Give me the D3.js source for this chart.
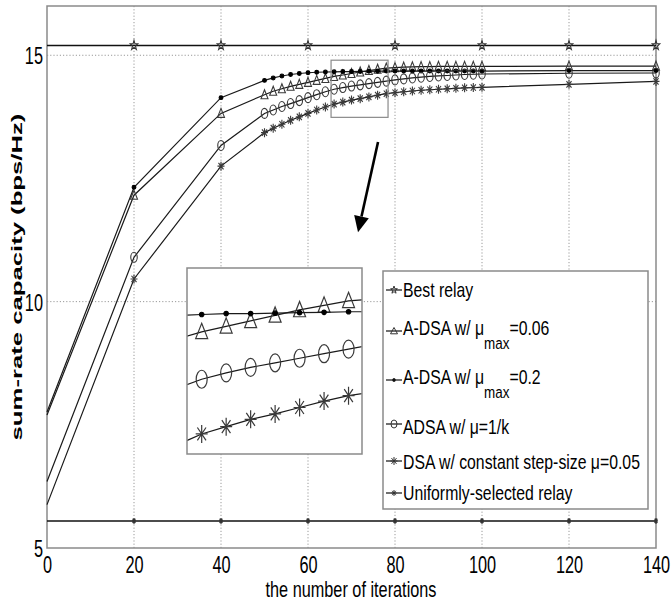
<!DOCTYPE html>
<html>
<head>
<meta charset="utf-8">
<script src="https://cdn.jsdelivr.net/npm/d3@7"></script>
<style>
body{margin:0;background:#fff}
svg{display:block}
text{font-family:"Liberation Sans",Arial,sans-serif;fill:#000}
</style>
</head>
<body>
<script>
// iterations where the adaptive curves were sampled
const iters = [0,20,40,50,52,54,56,58,60,62,64,66,68,70,72,74,76,78,80,82,84,86,88,90,92,94,96,98,100,120,140];
const aDsa006 = [7.70,12.16,13.82,14.20,14.27,14.32,14.37,14.41,14.45,14.49,14.53,14.57,14.60,14.63,14.66,14.69,14.715,14.74,14.75,14.76,14.765,14.77,14.77,14.775,14.775,14.775,14.775,14.775,14.775,14.78,14.78];
const aDsa02 = [7.76,12.32,14.14,14.49,14.54,14.58,14.61,14.63,14.645,14.655,14.66,14.665,14.67,14.67,14.672,14.675,14.677,14.68,14.68,14.68,14.68,14.68,14.68,14.68,14.68,14.68,14.68,14.68,14.68,14.69,14.69];
const adsaK = [6.35,10.9,13.17,13.82,13.89,13.96,14.02,14.08,14.14,14.20,14.26,14.31,14.345,14.375,14.40,14.425,14.45,14.475,14.50,14.52,14.54,14.555,14.57,14.58,14.59,14.60,14.61,14.615,14.62,14.635,14.64];
const dsaConst = [5.88,10.46,12.75,13.43,13.52,13.60,13.68,13.75,13.82,13.89,13.95,14.01,14.05,14.09,14.12,14.155,14.19,14.22,14.24,14.26,14.275,14.29,14.30,14.31,14.32,14.33,14.34,14.345,14.35,14.41,14.47];
// the two reference lines
const flatIters = [0,20,40,60,80,100,120,140];
const bestRelay = [15.2,15.2,15.2,15.2,15.2,15.2,15.2,15.2];
const uniformRelay = [5.55,5.55,5.55,5.55,5.55,5.55,5.55,5.55];

const xTicks = [0,20,40,60,80,100,120,140];
const yTicks = [5,10,15];
const legendNames = ["Best relay","A-DSA w/ \u03bcmax=0.06","A-DSA w/ \u03bcmax=0.2","ADSA w/ \u03bc=1/k","DSA w/ constant step-size \u03bc=0.05","Uniformly-selected relay"];

// zoomed window (data units)
const zoomBox = {x:[65.3,78.4], y:[13.74,14.90]};
const insetDomain = {x:[64.8,79.1], y:[13.90,14.92]};

const W = 672, H = 607;
const svg = d3.select("body").append("svg").attr("width",W).attr("height",H);

const x = d3.scaleLinear().domain([0,140]).range([47,656]);
const y = d3.scaleLinear().domain([5,16]).range([548,6]);

// marker shapes, w/h are full sizes in px
function shape(type,w,h){
  const a=w/2,b=h/2;
  if(type==="tri") return `M0,${-b}L${a},${b*0.8}L${-a},${b*0.8}Z`;
  if(type==="circ"||type==="dot") return `M${-a},0A${a},${b} 0 1,0 ${a},0A${a},${b} 0 1,0 ${-a},0Z`;
  if(type==="ast"){
    const c=a*0.72,d=b*0.72;
    return `M0,${-b}V${b}M${-a},0H${a}M${-c},${-d}L${c},${d}M${c},${-d}L${-c},${d}`;
  }
  if(type==="pent"){
    let p="";
    for(let i=0;i<10;i++){
      const r=i%2?0.4:1, t=-Math.PI/2+i*Math.PI/5;
      p+=(i?"L":"M")+(a*r*Math.cos(t)).toFixed(2)+","+(b*r*Math.sin(t)).toFixed(2);
    }
    return p+"Z";
  }
}

const series = [
  {xs:iters, ys:aDsa006, m:"tri"},
  {xs:iters, ys:aDsa02, m:"dot"},
  {xs:iters, ys:adsaK, m:"circ"},
  {xs:iters, ys:dsaConst, m:"ast"}
];
const mainSize = {tri:[7,10],dot:[3.8,3.8],circ:[6.5,10],ast:[7,9]};

// grid
const grid = svg.append("g").attr("stroke","#9a9a9a").attr("stroke-dasharray","1.2,2").attr("stroke-width",1);
grid.selectAll(".gx").data(xTicks.slice(1,-1)).join("line")
  .attr("x1",d=>x(d)).attr("x2",d=>x(d)).attr("y1",y(16)).attr("y2",y(5));
grid.selectAll(".gy").data([10,15]).join("line")
  .attr("x1",x(0)).attr("x2",x(140)).attr("y1",d=>y(d)).attr("y2",d=>y(d));

// axes box
svg.append("rect").attr("x",x(0)).attr("y",y(16)).attr("width",x(140)-x(0)).attr("height",y(5)-y(16))
  .attr("fill","none").attr("stroke","#8a8a8a").attr("stroke-width",1.5);

const line = d3.line();
function drawSeries(g, sx, sy, sizes, filterFn, sw){
  series.forEach(s=>{
    const pts = s.xs.map((v,i)=>[sx(v),sy(s.ys[i])]);
    g.append("path").attr("d",line(pts)).attr("fill","none").attr("stroke","#1a1a1a").attr("stroke-width",1.2);
    const sz = sizes[s.m];
    g.append("g").selectAll("path").data(s.xs.map((v,i)=>[v,s.ys[i]]).filter(filterFn)).join("path")
      .attr("transform",d=>`translate(${sx(d[0])},${sy(d[1])})`)
      .attr("d",shape(s.m,sz[0],sz[1]))
      .attr("fill",s.m==="dot"?"#000":"none")
      .attr("stroke",s.m==="dot"?"#000":"#3a3a3a").attr("stroke-width",sw);
  });
}

// reference lines
[[bestRelay,"pent",[8,10]],[uniformRelay,"ast",[4,6]]].forEach(([vals,m,sz])=>{
  const pts = flatIters.map((v,i)=>[x(v),y(vals[i])]);
  svg.append("path").attr("d",line(pts)).attr("fill","none").attr("stroke","#111").attr("stroke-width",1.5);
  svg.append("g").selectAll("path").data(flatIters.map((v,i)=>[v,vals[i]]).filter(d=>d[0]>0)).join("path")
    .attr("transform",d=>`translate(${x(d[0])},${y(d[1])})`)
    .attr("d",shape(m,sz[0],sz[1])).attr("fill","none").attr("stroke","#333").attr("stroke-width",1.1);
});

drawSeries(svg.append("g"), x, y, mainSize, d=>d[0]>0, 1.1);

// zoom window marker
svg.append("rect").attr("x",x(zoomBox.x[0])).attr("y",y(zoomBox.y[1]))
  .attr("width",x(zoomBox.x[1])-x(zoomBox.x[0])).attr("height",y(zoomBox.y[0])-y(zoomBox.y[1]))
  .attr("fill","none").attr("stroke","#8a8a8a").attr("stroke-width",1.2);

// inset
const ix = d3.scaleLinear().domain(insetDomain.x).range([187,362]);
const iy = d3.scaleLinear().domain(insetDomain.y).range([454,268]);
svg.append("defs").append("clipPath").attr("id","insetClip").append("rect")
  .attr("x",187).attr("y",268).attr("width",175).attr("height",186);
svg.append("rect").attr("x",187).attr("y",268).attr("width",175).attr("height",186).attr("fill","#fff");
const ig = svg.append("g").attr("clip-path","url(#insetClip)");
drawSeries(ig, ix, iy, {tri:[12,17],dot:[4.5,4.5],circ:[11,18],ast:[12,18]},
  d=>d[0]>=insetDomain.x[0] && d[0]<=insetDomain.x[1], 1.2);
svg.append("rect").attr("x",187).attr("y",268).attr("width",175).attr("height",186)
  .attr("fill","none").attr("stroke","#8a8a8a").attr("stroke-width",1.5);

// arrow
const arrowFrom=[76.1,13.24], arrowTip=[71.5,11.41];
{
  const x0=x(arrowFrom[0]),y0=y(arrowFrom[1]),x1=x(arrowTip[0]),y1=y(arrowTip[1]);
  const ang=Math.atan2(y1-y0,x1-x0), L=16, Wd=7.5;
  const bx=x1-L*Math.cos(ang), by=y1-L*Math.sin(ang);
  svg.append("line").attr("x1",x0).attr("y1",y0).attr("x2",bx).attr("y2",by).attr("stroke","#000").attr("stroke-width",2.6);
  const nx=-Math.sin(ang), ny=Math.cos(ang);
  svg.append("path").attr("d",`M${x1},${y1}L${bx+nx*Wd},${by+ny*Wd}L${bx-nx*Wd},${by-ny*Wd}Z`).attr("fill","#000");
}

// legend
const lg = svg.append("g");
lg.append("rect").attr("x",383).attr("y",271).attr("width",265).attr("height",238)
  .attr("fill","#fff").attr("stroke","#8a8a8a").attr("stroke-width",1.5);
const legRows = [
  {ly:290, base:297, m:"pent", sz:[7,8]},
  {ly:331, base:335, m:"tri", sz:[7,7]},
  {ly:380, base:384, m:"dot", sz:[3,3]},
  {ly:424, base:434, m:"circ", sz:[6,8]},
  {ly:461, base:469, m:"ast", sz:[7,8]},
  {ly:493, base:500, m:"ast", sz:[5,6]}
];
legRows.forEach((r,i)=>{
  lg.append("line").attr("x1",386).attr("x2",402).attr("y1",r.ly).attr("y2",r.ly).attr("stroke","#111").attr("stroke-width",1.2);
  lg.append("path").attr("transform",`translate(394,${r.ly})`).attr("d",shape(r.m,r.sz[0],r.sz[1]))
    .attr("fill",r.m==="dot"?"#000":"none").attr("stroke","#333").attr("stroke-width",1);
  const t = lg.append("text").attr("transform",`translate(403,${r.base}) scale(0.79,1)`).attr("font-size",20);
  const name = legendNames[i];
  if(name.includes("\u03bcmax")){
    const [pre,post] = name.split("\u03bcmax");
    t.append("tspan").text(pre+"\u03bc");
    t.append("tspan").attr("dy",14).attr("font-size",17).text("max");
    t.append("tspan").attr("dy",-14).text(post);
  } else t.text(name);
});

// tick labels
const xAxis = svg.append("g").attr("transform",`translate(0,${y(5)})`)
  .call(d3.axisBottom(x).tickValues(xTicks).tickSize(0).tickFormat(d3.format("d")));
xAxis.select(".domain").remove();
xAxis.selectAll("text").attr("y",null).attr("dy",null).attr("font-size",24).attr("font-family",null)
  .attr("transform","translate(0,25) scale(0.68,1)");
const yAxis = svg.append("g").attr("transform",`translate(${x(0)},0)`)
  .call(d3.axisLeft(y).tickValues(yTicks).tickSize(0).tickFormat(d3.format("d")));
yAxis.select(".domain").remove();
yAxis.selectAll("text").attr("x",null).attr("dy","0.36em").attr("font-size",24).attr("font-family",null)
  .attr("transform","translate(-4,0) scale(0.68,1)");

// axis titles
svg.append("text").attr("transform","translate(351,597) scale(0.74,1)").attr("text-anchor","middle")
  .attr("font-size",22).text("the number of iterations");
const yl = svg.append("text").attr("text-anchor","middle").attr("font-size",21).attr("font-weight","bold")
  .text("sum-rate capacity (bps/Hz)");
const ylLen = yl.node().getComputedTextLength();
yl.attr("transform",`translate(22,277) rotate(-90) scale(${327/ylLen},0.7)`);
</script>
</body>
</html>
